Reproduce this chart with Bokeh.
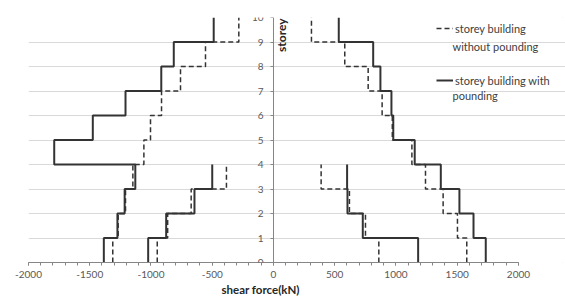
import numpy as np
from bokeh.plotting import figure
from bokeh.models import FixedTicker, Label, Legend, LegendItem, Range1d, Title
from bokeh.embed import file_html
from bokeh.resources import INLINE

# ---- data ----
storeys = list(range(0, 11))
x_ticks = [-2000, -1500, -1000, -500, 0, 500, 1000, 1500, 2000]
x_tick_labels = ["-2000", "-1500", "-1000", "-500", "0", "500", "1000", "1500", "2000"]
x_minor = list(range(-2000, 2001, 100))

# shear force per storey segment (storey k-1 .. k), bottom to top
left10_without = [-1312, -1268, -1208, -1148, -1058, -1004, -914, -759, -555, -283]
left10_with = [-1385, -1274, -1215, -1128, -1790, -1475, -1208, -916, -814, -488]
left4_without = [-949, -864, -672, -384]
left4_with = [-1023, -876, -645, -500]
right10_without = [1578, 1502, 1385, 1241, 1130, 970, 887, 773, 582, 310]
right10_with = [1733, 1633, 1518, 1366, 1153, 978, 963, 873, 814, 533]
right4_without = [860, 751, 620, 389]
right4_with = [1181, 729, 604, 601]

legend_without = ["storey building", "without pounding"]
legend_with = ["storey building with", "pounding"]
x_title = "shear force(kN)"
y_title = "storey"


def step_path(vals):
    v = np.asarray(vals, dtype=float)
    xs = np.repeat(v, 2)
    ys = np.repeat(np.arange(len(v) + 1), 2)[1:-1].astype(float)
    return xs, ys


LINE = "#333333"
GRID = "#d9d9d9"
AXIS = "#868686"
TXT = "#595959"
LEG = "#404040"

p = figure(width=565, height=301, x_range=Range1d(-2000, 2384), y_range=Range1d(0, 10),
           output_backend="svg", toolbar_location=None,
           min_border_left=28, min_border_right=0, min_border_top=17, min_border_bottom=39)
p.outline_line_color = None
p.background_fill_color = "white"
p.border_fill_color = "white"
p.styles = {"outline": "1px solid #d9d9d9", "outline-offset": "-3px"}

p.xgrid.visible = False
p.ygrid.grid_line_color = GRID
p.ygrid.grid_line_width = 1
p.ygrid.bounds = (-2000, 2000)

xa = p.xaxis[0]
xa.ticker = FixedTicker(ticks=x_ticks, minor_ticks=x_minor)
xa.major_label_overrides = {t: l for t, l in zip(x_ticks, x_tick_labels)}
xa.bounds = (-2000, 2000)
xa.axis_line_color = AXIS
xa.major_tick_line_color = AXIS
xa.minor_tick_line_color = AXIS
xa.major_tick_in = 0
xa.major_tick_out = 3
xa.minor_tick_in = 0
xa.minor_tick_out = 3
xa.major_label_text_font = "Lato"
xa.major_label_text_font_size = "10px"
xa.major_label_text_color = TXT
xa.major_label_standoff = 5

p.add_layout(Title(text=x_title, align="left", offset=193, standoff=0,
                   text_font="Lato", text_font_style="bold", text_font_size="11.5px",
                   text_color="#262626"), "below")

ya = p.yaxis[0]
ya.fixed_location = 0
ya.ticker = FixedTicker(ticks=storeys)
ya.axis_line_color = AXIS
ya.major_tick_line_color = AXIS
ya.major_tick_in = 0
ya.major_tick_out = 3
ya.minor_tick_line_color = None
ya.major_label_text_font = "Lato"
ya.major_label_text_font_size = "10px"
ya.major_label_text_color = TXT
ya.major_label_standoff = 7

renderers = {}
for name, vals, dashed in [
    ("l10w", left10_without, True), ("l10p", left10_with, False),
    ("l4w", left4_without, True), ("l4p", left4_with, False),
    ("r10w", right10_without, True), ("r10p", right10_with, False),
    ("r4w", right4_without, True), ("r4p", right4_with, False),
]:
    xs, ys = step_path(vals)
    if dashed:
        r = p.line(xs, ys, line_color=LINE, line_width=1.5, line_dash="5 3")
    else:
        r = p.line(xs, ys, line_color=LINE, line_width=2)
    renderers[name] = r

legend = Legend(items=[LegendItem(label=legend_without[0], renderers=[renderers["l10w"]]),
                       LegendItem(label=legend_with[0], renderers=[renderers["l10p"]])],
                location=(408, 174))
legend.padding = 0
legend.margin = 0
legend.spacing = 36
legend.border_line_color = None
legend.background_fill_alpha = 0
legend.label_standoff = 2
legend.glyph_width = 17
legend.glyph_height = 16
legend.label_height = 16
legend.label_text_font = "Lato"
legend.label_text_font_size = "11px"
legend.label_text_color = LEG
p.add_layout(legend, "center")

for txt, sy in [(legend_without[1], 216), (legend_with[1], 167)]:
    p.add_layout(Label(x=424, y=sy, x_units="screen", y_units="screen", text=txt,
                       text_align="left", text_baseline="middle", text_font="Lato",
                       text_font_size="11px", text_color=LEG))

p.add_layout(Label(x=0, y=10, x_offset=1, y_offset=-1, text=y_title, angle=np.pi / 2,
                   text_align="right", text_baseline="top", text_font="Lato",
                   text_font_style="bold", text_font_size="12px", text_color="#262626"))

open("out.html", "w").write(file_html(p, INLINE))
